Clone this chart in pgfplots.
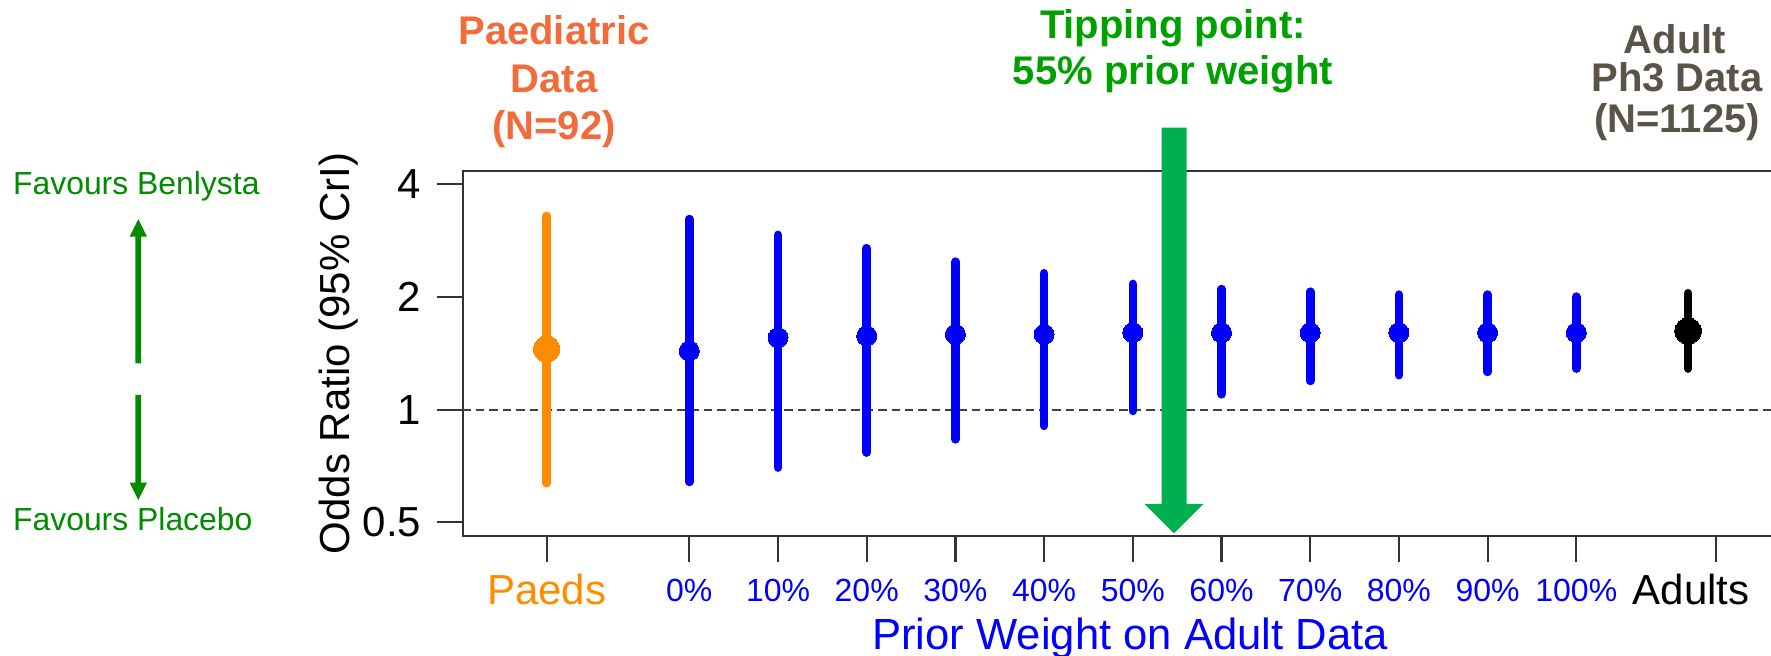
\documentclass[border=0pt]{standalone}
\usepackage{fontspec}
\setmainfont{Liberation Sans}
\usepackage{pgfplots}
\pgfplotsset{compat=1.18}
\usepackage{pgfplotstable}
\usetikzlibrary{calc}

\definecolor{paeds}{HTML}{FF8C00}
\definecolor{adultgray}{HTML}{595447}
\definecolor{paedtext}{HTML}{F26B3A}
\definecolor{tipgreen}{HTML}{00A000}
\definecolor{arrowgreen}{HTML}{00B050}
\definecolor{favgreen}{HTML}{008B00}
\definecolor{axisgray}{HTML}{333333}
\definecolor{dashgray}{HTML}{404040}

% estimates: x position, median, lower, upper
\pgfplotstableread{
x m
-1.608 1.453
}\paedsmed
\pgfplotstableread{
x y
-1.608 0.636
-1.608 3.29
}\paedsbar
\pgfplotstableread{
x m
0 1.435
1 1.557
2 1.574
3 1.590
4 1.590
5 1.606
6 1.606
7 1.606
8 1.606
9 1.606
10 1.606
}\bluemed
\pgfplotstableread{
x y
0 0.641
0 3.23
nan nan
1 0.70
1 2.93
nan nan
2 0.768
2 2.70
nan nan
3 0.833
3 2.485
nan nan
4 0.905
4 2.314
nan nan
5 0.992
5 2.167
nan nan
6 1.099
6 2.10
nan nan
7 1.193
7 2.066
nan nan
8 1.236
8 2.029
nan nan
9 1.261
9 2.029
nan nan
10 1.287
10 2.004
}\bluebars
\pgfplotstableread{
x m
11.26 1.622
}\adultmed
\pgfplotstableread{
x y
11.26 1.287
11.26 2.046
}\adultbar

\begin{document}
\begin{tikzpicture}
\begin{axis}[
  name=ax,
  scale only axis,
  width=668.65pt, height=182.35pt,
  xmin=-2.555, xmax=12.522,
  ymode=log, log basis y=2,
  ymin=0.4605, ymax=4.341,
  ytick={0.5,1,2,4},
  yticklabels={0.5,1,2,4},
  xtick={-1.608,0,1,2,3,4,5,6,7,8,9,10,11.575},
  xticklabels={{\textcolor{paeds}{\fontsize{21}{21}\selectfont\raisebox{-1.65pt}{Paeds}}},0\%,10\%,20\%,30\%,40\%,50\%,60\%,70\%,80\%,90\%,100\%,{}},
  xtick pos=left, ytick pos=left,
  tick align=outside,
  major tick length=13pt,
  axis line style={axisgray, line width=1.1pt},
  every tick/.style={axisgray, line width=1.1pt},
  xticklabel style={anchor=base, yshift=-20pt, font=\fontsize{16}{16}\selectfont, text=blue},
  yticklabel style={anchor=east, inner sep=0pt, xshift=-7.5pt, font=\fontsize{21}{21}\selectfont},
  /pgf/number format/assume math mode=true,
  clip=false,
  unbounded coords=jump,
]
\addplot[dashgray, line width=0.9pt, dash pattern=on 4.2pt off 2.5pt] coordinates {(-2.555,1) (12.522,1)};
\addplot[paeds, line width=4.3pt, line cap=round] table[x=x,y=y] {\paedsbar};
\addplot[blue, line width=4.3pt, line cap=round] table[x=x,y=y] {\bluebars};
\addplot[black, line width=4.3pt, line cap=round] table[x=x,y=y] {\adultbar};
\addplot[only marks, mark=*, mark size=6.6pt, mark options={fill=paeds, draw=paeds, line width=0pt}] table[x=x,y=m] {\paedsmed};
\addplot[only marks, mark=*, mark size=5pt, mark options={fill=blue, draw=blue, line width=0pt}] table[x=x,y=m] {\bluemed};
\addplot[only marks, mark=*, mark size=6.6pt, mark options={fill=black, draw=black, line width=0pt}] table[x=x,y=m] {\adultmed};
\end{axis}
\begin{scope}[shift={($(ax.south west)+(-231.35pt,267.85pt)$)}, x=0.5pt, y=-0.5pt]
  % tipping point arrow
  \fill[arrowgreen] (1161.5,127.7) -- (1186.5,127.7) -- (1186.5,504) -- (1203.5,504) -- (1174,533.3) -- (1144.5,504) -- (1161.5,504) -- cycle;
  % favours arrows
  \fill[favgreen] (135.5,363.3) -- (141.2,363.3) -- (141.2,236.6) -- (147,236.6) -- (138.3,219.3) -- (129.6,236.6) -- (135.5,236.6) -- cycle;
  \fill[favgreen] (135.5,395) -- (141.2,395) -- (141.2,482.7) -- (147,482.7) -- (138.3,500) -- (129.6,482.7) -- (135.5,482.7) -- cycle;
  \node[anchor=base west, inner sep=0pt, text=favgreen, font=\fontsize{15.95}{16}\selectfont] at (12.7,195) {Favours Benlysta};
  \node[anchor=base west, inner sep=0pt, text=favgreen, font=\fontsize{15.95}{16}\selectfont] at (12.7,531) {Favours Placebo};
  % y label
  \node[rotate=90, anchor=base, inner sep=0pt, font=\fontsize{21}{21}\selectfont] at (350,353.4) {Odds Ratio (95\% CrI)};
  % x label
  \node[anchor=base, inner sep=0pt, text=blue, font=\fontsize{21.8}{22}\selectfont] at (1130,650) {Prior Weight on Adult Data};
  % Adults tick label
  \node[anchor=base, inner sep=0pt, font=\fontsize{21}{21}\selectfont] at (1691,605) {Adults};
  % top annotations
  \begin{scope}[every node/.style={anchor=base, inner sep=0pt, font=\bfseries\fontsize{20}{20}\selectfont}]
    \node[text=paedtext] at (554,45) {Paediatric};
    \node[text=paedtext] at (554,92.3) {Data};
    \node[text=paedtext] at (554,139.5) {(N=92)};
    \node[text=tipgreen] at (1173,38.3) {Tipping point:};
    \node[text=tipgreen] at (1173,85) {55\% prior weight};
    \node[text=adultgray] at (1675,53.3) {Adult};
    \node[text=adultgray] at (1677,91.7) {Ph3 Data};
    \node[text=adultgray] at (1677,133) {(N=1125)};
  \end{scope}
  \pgfresetboundingbox
  \path[use as bounding box] (0,0) rectangle (1771,656);
\end{scope}
\end{tikzpicture}
\end{document}
